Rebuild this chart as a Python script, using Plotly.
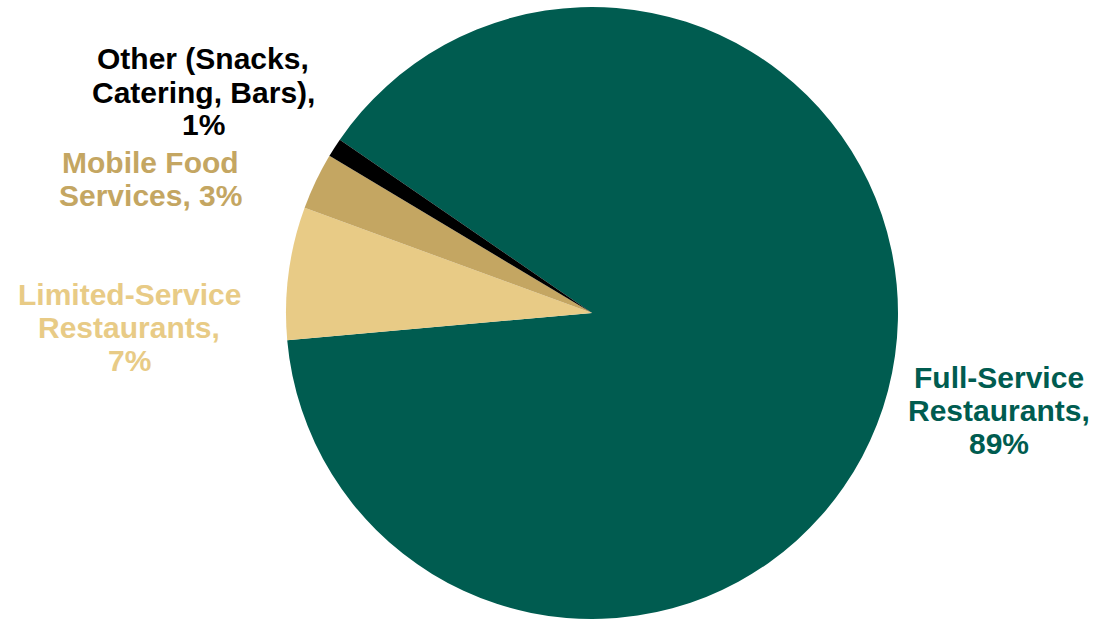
import plotly.graph_objects as go

categories = ["Full-Service Restaurants", "Limited-Service Restaurants", "Mobile Food Services", "Other (Snacks, Catering, Bars)"]
shares = [89, 7, 3, 1]
colors = ["#005C50", "#E8CB86", "#C4A662", "#000000"]
label_lines = [
    ["Full-Service", "Restaurants,", "89%"],
    ["Limited-Service", "Restaurants,", "7%"],
    ["Mobile Food", "Services, 3%"],
    ["Other (Snacks,", "Catering, Bars),", "1%"],
]

W, H = 1120, 619
fig = go.Figure(go.Pie(
    labels=categories, values=shares, sort=False, direction="clockwise",
    rotation=-55.5, textinfo="none", hoverinfo="label+percent",
    marker=dict(colors=colors, line=dict(width=0)),
    domain=dict(x=[286 / W, 898 / W], y=[0, 612 / H]),
    showlegend=False,
))

# label anchor (center x, first-line center y) in pixels
anchors = [(999, 377), (129, 294), (150, 162), (203, 59)]
line_gap = 33
for lines, (cx, cy), col in zip(label_lines, anchors, colors):
    for i, t in enumerate(lines):
        fig.add_annotation(
            x=cx / W, y=1 - (cy + i * line_gap) / H, xref="paper", yref="paper",
            text="<b>" + t + "</b>", showarrow=False, xanchor="center", yanchor="middle",
            font=dict(family="Liberation Sans, Arial, sans-serif", size=30, color=col),
        )

fig.update_layout(
    width=W, height=H, margin=dict(l=0, r=0, t=0, b=0),
    paper_bgcolor="white", plot_bgcolor="white",
)
fig.write_html("out.html", config={"displayModeBar": False},
               post_script="document.body.style.margin='0';")
